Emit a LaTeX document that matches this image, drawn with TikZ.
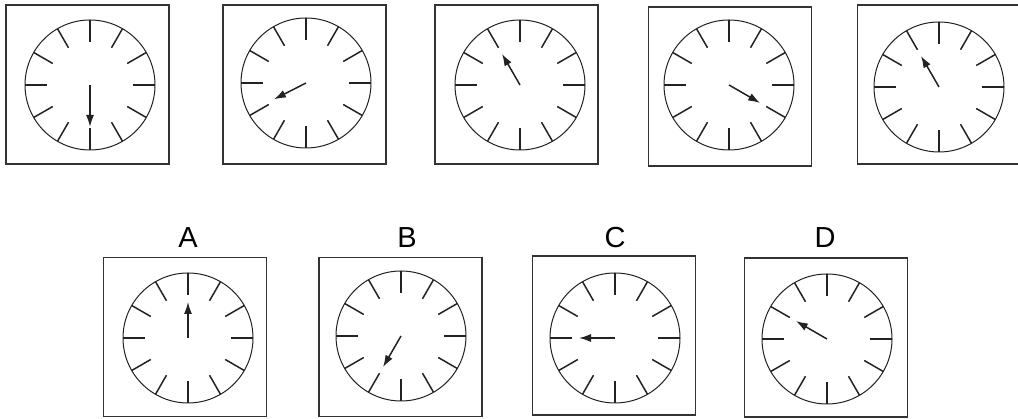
\documentclass[tikz,border=0pt]{standalone}
\usepackage{fontspec}
\setmainfont{Liberation Sans}
\usetikzlibrary{arrows.meta}
\definecolor{ink}{HTML}{222222}
\definecolor{frame}{HTML}{333333}

\tikzset{
  clockbox/.style={draw=frame,line width=1.6pt,minimum width=163pt,minimum height=159pt,inner sep=0pt},
  face/.style={circle,draw=ink,line width=1pt,minimum size=130pt,inner sep=0pt},
  tick/.style={ink,line width=1.5pt},
  hand/.style={ink,line width=1.5pt,-{Latex[length=12pt,width=8pt]}},
  letter/.style={font=\fontsize{29}{30}\selectfont,inner sep=0pt}
}

\begin{document}
\begin{tikzpicture}[x=1pt,y=1pt]
\useasboundingbox (0,0) rectangle (1018,419);
% question row and answer row
\foreach \n/\bx/\by/\cx/\cy/\ang/\len in {
  q1/87.5/334.5/90/334/270/42, q2/304.5/334.5/306/336/207/36,
  q3/516.5/334.5/520/334/120/36, q4/730/332.5/729/334/-30/36,
  q5/939/334.5/939/332/120/36,
  a/185/82/188/81/90/36, b/400.5/82/401/83/240/36,
  c/614/83.5/615/81/180/36, d/826/81.5/827/80/150/36}{
  \node[clockbox] (box\n) at (\bx,\by) {};
  \node[face] (face\n) at (\cx,\cy) {};
  \foreach \t in {0,30,...,330}{\draw[tick] (face\n.center) ++(\t:43) -- ++(\t:22);}
  \path (face\n.center) ++(\ang:\len) coordinate (tip\n);
  \draw[hand] (face\n.center) -- (tip\n);
}
\node[letter] (labA) at (188,181) {A};
\node[letter] (labB) at (407,181) {B};
\node[letter] (labC) at (615,181) {C};
\node[letter] (labD) at (825,181) {D};
\end{tikzpicture}
\end{document}
